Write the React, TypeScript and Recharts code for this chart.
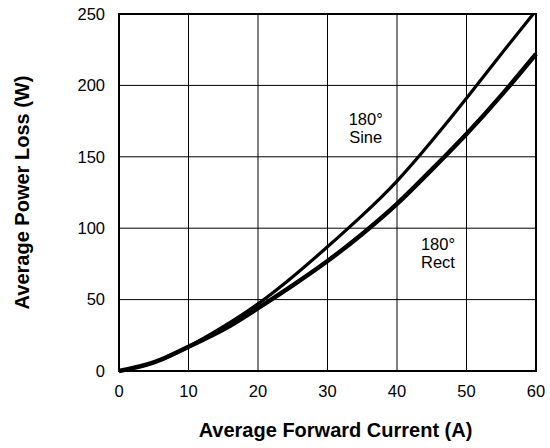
import React from "react";
import {
  LineChart,
  Line,
  XAxis,
  YAxis,
  CartesianGrid,
  ReferenceArea,
  ReferenceDot,
} from "recharts";

const xTicks = [0, 10, 20, 30, 40, 50, 60];
const yTicks = [0, 50, 100, 150, 200, 250];

// 180° sine wave
const sineCurrent = [0, 5, 10, 15, 20, 25, 30, 35, 40, 45, 50, 55, 59.6];
const sineLoss = [0, 6, 17, 31, 47, 66, 87, 109, 133, 161, 191, 222, 250];

// 180° rectangular wave
const rectCurrent = [0, 5, 10, 15, 20, 25, 30, 35, 40, 45, 50, 55, 60];
const rectLoss = [0, 6, 17, 29, 44, 60, 77, 96, 117, 141, 166, 193, 222];

const notes = [
  { lines: ["180°", "Sine"], x: 35.5, y: 172 },
  { lines: ["180°", "Rect"], x: 45.9, y: 85 },
];

const sineData = sineCurrent.map((x, i) => ({ x, w: sineLoss[i] }));
const rectData = rectCurrent.map((x, i) => ({ x, w: rectLoss[i] }));

const FONT = "'Liberation Sans', Arial, Helvetica, sans-serif";

function NoteLabel(props: any) {
  const { viewBox, lines } = props;
  const cx = viewBox.x + (viewBox.width || 0) / 2;
  const cy = viewBox.y + (viewBox.height || 0) / 2;
  return (
    <text x={cx} y={cy} textAnchor="middle" fontSize={16.5} fill="#000" fontFamily={FONT}>
      {lines.map((t: string, i: number) => (
        <tspan key={i} x={cx} dy={i === 0 ? 0 : 18}>
          {t}
        </tspan>
      ))}
    </text>
  );
}

export default function App() {
  return (
    <div style={{ position: "absolute", left: 0, top: 0, background: "#fff" }}>
      <LineChart
        width={550}
        height={448}
        margin={{ top: 14, right: 14, left: 0, bottom: 0 }}
        style={{ fontFamily: FONT }}
      >
        <CartesianGrid stroke="#000" strokeWidth={1} />
        <XAxis
          type="number"
          dataKey="x"
          domain={[0, 60]}
          ticks={xTicks}
          height={77}
          axisLine={false}
          tickLine={false}
          tickSize={0}
          tickMargin={14}
          tick={{ fontSize: 16.5, fill: "#000" }}
          label={{
            value: "Average Forward Current (A)",
            position: "insideBottom",
            offset: 11,
            dx: 8,
            style: { fontSize: 20, fontWeight: "bold", fill: "#000" },
          }}
        />
        <YAxis
          type="number"
          domain={[0, 250]}
          ticks={yTicks}
          width={119}
          axisLine={false}
          tickLine={false}
          tickSize={0}
          tickMargin={14}
          tick={{ fontSize: 16.5, fill: "#000" }}
          label={{
            value: "Average Power Loss (W)",
            angle: -90,
            position: "insideLeft",
            offset: 22,
            style: { fontSize: 20, fontWeight: "bold", fill: "#000", textAnchor: "middle" },
          }}
        />
        <ReferenceArea x1={0} x2={60} y1={0} y2={250} fill="none" stroke="#000" strokeWidth={2} />
        <Line
          data={sineData}
          dataKey="w"
          type="natural"
          stroke="#000"
          strokeWidth={3.2}
          dot={false}
          isAnimationActive={false}
        />
        <Line
          data={rectData}
          dataKey="w"
          type="natural"
          stroke="#000"
          strokeWidth={4.5}
          dot={false}
          isAnimationActive={false}
        />
        {notes.map((n, i) => (
          <ReferenceDot
            key={i}
            x={n.x}
            y={n.y}
            r={0}
            fill="none"
            stroke="none"
            label={<NoteLabel lines={n.lines} />}
          />
        ))}
      </LineChart>
    </div>
  );
}
